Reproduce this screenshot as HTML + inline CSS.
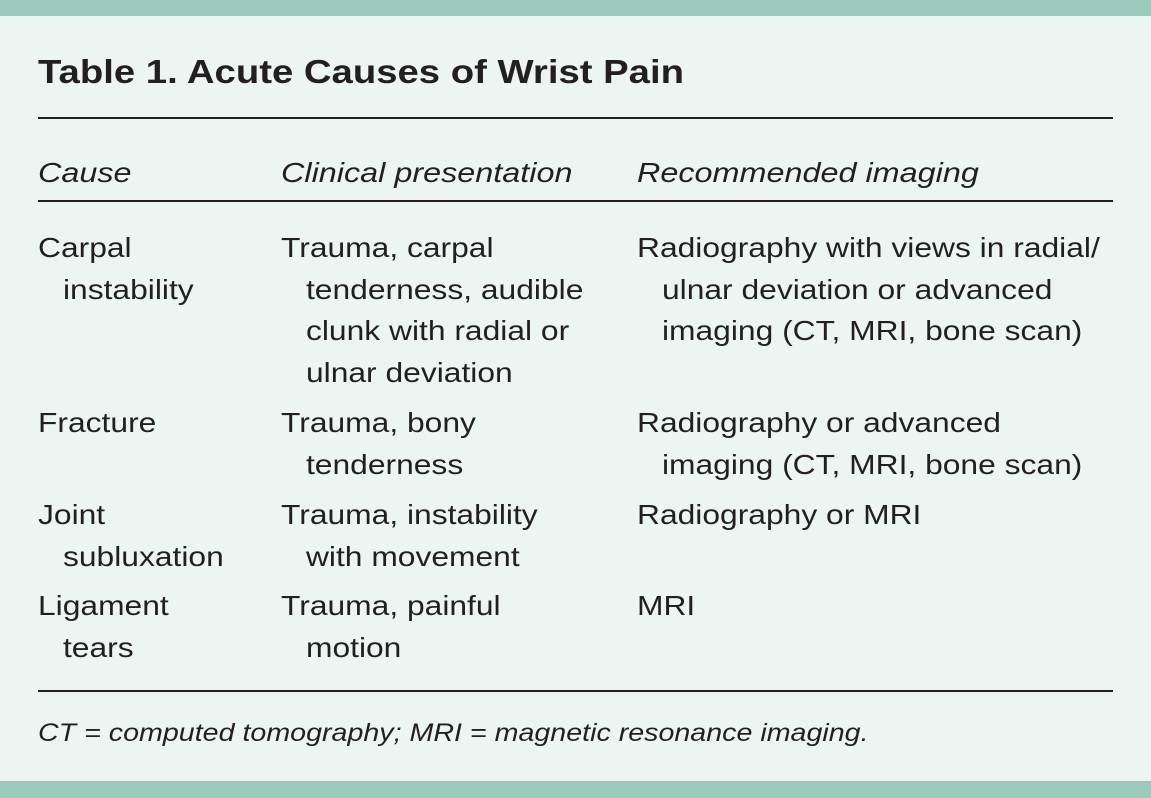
<!DOCTYPE html>
<html><head><meta charset="utf-8"><style>
body{margin:0;width:1151px;height:798px;background:#edf5f3;position:relative;overflow:hidden;font-family:"Liberation Sans",sans-serif;color:#231f20}
.band{position:absolute;left:0;width:1151px;background:#9ccabf}
.ln{position:absolute;left:38px;width:1075px;background:#231f20}
.t{position:absolute;font-size:28px;line-height:41.5px;white-space:nowrap;transform:scaleX(1.135);transform-origin:0 0}
.t div{padding-left:22px;text-indent:-22px}
.i{font-style:italic}
.h{transform:scaleX(1.156)}
</style></head><body>
<div class="band" style="top:0;height:16px"></div>
<div class="band" style="top:781px;height:17px;border-top:2px solid #b3b8b5;box-sizing:border-box"></div>
<div style="position:absolute;left:38px;top:50px;font-size:33px;font-weight:bold;line-height:44px;transform:scaleX(1.16);transform-origin:0 0;white-space:nowrap">Table 1. Acute Causes of Wrist Pain</div>
<div class="ln" style="top:117px;height:2px"></div>
<div class="t i h" style="left:38px;top:152px">Cause</div>
<div class="t i h" style="left:281px;top:152px">Clinical presentation</div>
<div class="t i h" style="left:637px;top:152px">Recommended imaging</div>
<div class="ln" style="top:200px;height:2px"></div>

<div class="t" style="left:38px;top:227px"><div>Carpal<br>instability</div></div>
<div class="t" style="left:281px;top:227px"><div>Trauma, carpal<br>tenderness, audible<br>clunk with radial or<br>ulnar deviation</div></div>
<div class="t" style="left:637px;top:227px"><div>Radiography with views in radial/<br>ulnar deviation or advanced<br>imaging (CT, MRI, bone scan)</div></div>

<div class="t" style="left:38px;top:402px"><div>Fracture</div></div>
<div class="t" style="left:281px;top:402px"><div>Trauma, bony<br>tenderness</div></div>
<div class="t" style="left:637px;top:402px"><div>Radiography or advanced<br>imaging (CT, MRI, bone scan)</div></div>

<div class="t" style="left:38px;top:494px"><div>Joint<br>subluxation</div></div>
<div class="t" style="left:281px;top:494px"><div>Trauma, instability<br>with movement</div></div>
<div class="t" style="left:637px;top:494px"><div>Radiography or MRI</div></div>

<div class="t" style="left:38px;top:585px"><div>Ligament<br>tears</div></div>
<div class="t" style="left:281px;top:585px"><div>Trauma, painful<br>motion</div></div>
<div class="t" style="left:637px;top:585px"><div>MRI</div></div>

<div class="ln" style="top:690px;height:2px"></div>
<div class="t i" style="left:38px;top:713px;font-size:25px;transform:scaleX(1.145)">CT = computed tomography; MRI = magnetic resonance imaging.</div>
</body></html>
